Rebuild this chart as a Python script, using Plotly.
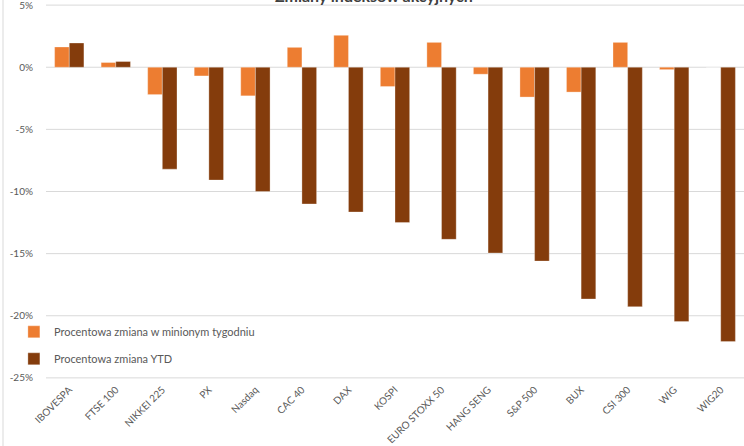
import plotly.graph_objects as go

categories = ["IBOVESPA", "FTSE 100", "NIKKEI 225", "PX", "Nasdaq", "CAC 40", "DAX", "KOSPI",
              "EURO STOXX 50", "HANG SENG", "S&P 500", "BUX", "CSI 300", "WIG", "WIG20"]
weekly_change = [1.63, 0.38, -2.2, -0.7, -2.3, 1.6, 2.57, -1.55, 2.0, -0.56, -2.4, -2.0, 2.0, -0.19, 0.0]
ytd_change = [1.95, 0.46, -8.2, -9.08, -10.0, -11.0, -11.65, -12.5, -13.85, -14.95, -15.6, -18.65, -19.27, -20.47, -22.08]
series_names = ["Procentowa zmiana w minionym tygodniu", "Procentowa zmiana YTD"]
y_tickvals = [5, 0, -5, -10, -15, -20, -25]
y_ticktext = ["5%", "0%", "-5%", "-10%", "-15%", "-20%", "-25%"]
title_text = "Zmiany indeksów akcyjnych"

FONT = "Lato, 'Open Sans', sans-serif"
GRAY = "#595959"
GRID = "#D9D9D9"

fig = go.Figure()
fig.add_trace(go.Bar(x=categories, y=weekly_change, name=series_names[0],
                     marker=dict(color="#ED7D31", line=dict(color="rgba(255,255,255,0.5)", width=0.6)),
                     legendgroup="a"))
fig.add_trace(go.Bar(x=categories, y=ytd_change, name=series_names[1],
                     marker=dict(color="#843C0C", line=dict(color="rgba(255,255,255,0.5)", width=0.6)),
                     legendgroup="b"))

# gridlines at the tick values (drawn below the bars)
grid_shapes = [dict(type="line", xref="paper", yref="y", x0=0, x1=1, y0=v, y1=v,
                    layer="below", line=dict(color=GRID, width=1)) for v in y_tickvals]

fig.update_layout(
    width=744, height=446,
    margin=dict(l=46, r=0, t=2, b=65),
    paper_bgcolor="white", plot_bgcolor="white",
    barmode="group", bargap=0.37, bargroupgap=0,
    font=dict(family=FONT, color=GRAY, size=10),
    showlegend=True,
    legend=dict(x=-0.046, y=0.168, xanchor="left", yanchor="top",
                bgcolor="rgba(0,0,0,0)", font=dict(size=11, color=GRAY),
                tracegroupgap=8, itemwidth=30),
    annotations=[dict(text="<b>" + title_text + "</b>", xref="paper", yref="paper",
                      x=0.47, y=1, xanchor="center", yanchor="bottom", yshift=-5,
                      showarrow=False, font=dict(size=16, color="#404040", family=FONT))],
    shapes=[dict(type="line", xref="paper", yref="paper", x0=-0.0616, x1=-0.0616,
                 y0=-0.2, y1=1.02, line=dict(color=GRID, width=1))] + grid_shapes,
)
fig.update_xaxes(showgrid=False, showline=False, ticks="", tickangle=-45,
                 tickfont=dict(size=10, color=GRAY), automargin=False)
fig.update_yaxes(range=[-25.25, 5.25], tickmode="array", tickvals=y_tickvals, ticktext=y_ticktext,
                 showgrid=False, zeroline=False, ticklabeloverflow="allow",
                 showline=False, ticks="outside", ticklen=10, tickcolor="rgba(0,0,0,0)",
                 tickfont=dict(size=10, color=GRAY), automargin=False)

fig.write_html("out.html")
